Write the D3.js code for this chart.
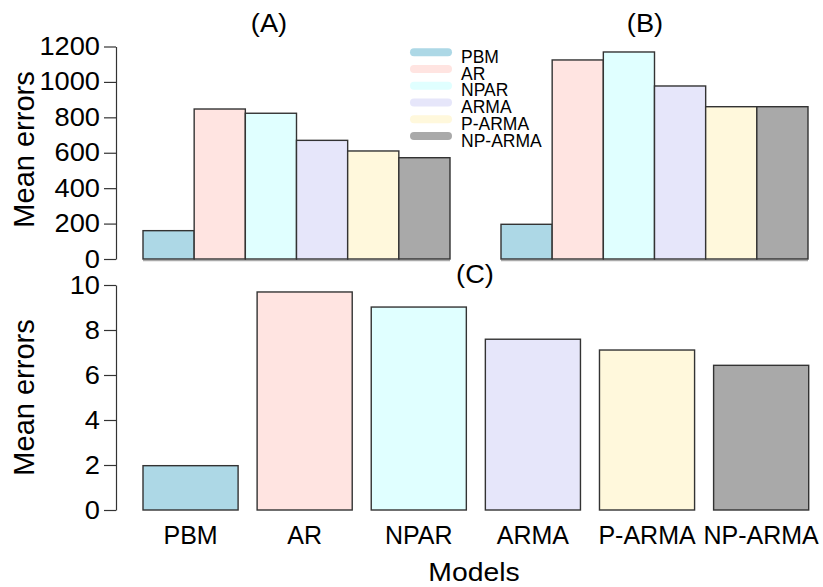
<!DOCTYPE html>
<html>
<head>
<meta charset="utf-8">
<script src="https://cdn.jsdelivr.net/npm/d3@7"></script>
<style>
  body { margin: 0; background: #fff; }
  svg text { font-family: "Liberation Sans", Arial, sans-serif; fill: #000; }
</style>
</head>
<body>
<svg width="823" height="587"></svg>
<script>
// models and fill colours (same order for every panel)
var models = ["PBM", "AR", "NPAR", "ARMA", "P-ARMA", "NP-ARMA"],
    fills = ["#add8e6", "#ffe4e1", "#e0ffff", "#e6e6fa", "#fff8dc", "#a9a9a9"];

// mean errors
var errorsA = [160, 847, 823, 670, 610, 572],
    errorsB = [196, 1124, 1169, 977, 860, 860],
    errorsC = [1.97, 9.69, 9.02, 7.59, 7.11, 6.43];

var ticksTop = [0, 200, 400, 600, 800, 1000, 1200],
    ticksC = [0, 2, 4, 6, 8, 10];

var svg = d3.select("svg"),
    sx = 1.09; // R text is a touch wider than Arial

var yTop = d3.scaleLinear().domain([0, 1200]).range([259, 46.5]);
var yC = d3.scaleLinear().domain([0, 10]).range([510, 285]);

var xA = d3.scaleBand().domain(models).range([143, 450]).padding(0),
    xB = d3.scaleBand().domain(models).range([501, 808]).padding(0),
    xC = d3.scaleBand().domain(models).range([143, 808.7]).paddingInner(1 / 6).paddingOuter(0);

function stretch(sel) {
  sel.each(function() {
    var t = d3.select(this), x = +t.attr("x") || 0;
    t.attr("x", x / sx).attr("transform", "scale(" + sx + ",1)");
  });
}

function bars(x, y, vals) {
  svg.append("g").selectAll("rect")
    .data(vals)
    .enter().append("rect")
      .attr("x", function(d, i) { return x(models[i]); })
      .attr("width", x.bandwidth())
      .attr("y", function(d) { return y(d); })
      .attr("height", function(d) { return y(0) - y(d); })
      .attr("fill", function(d, i) { return fills[i]; })
      .attr("stroke", "#333")
      .attr("stroke-width", 1.4);
}

function yaxis(y, ticks) {
  var g = svg.append("g")
      .attr("transform", "translate(116,0)")
      .call(d3.axisLeft(y).tickValues(ticks).tickFormat(d3.format("d"))
        .tickSize(12).tickSizeOuter(0).tickPadding(4));
  g.selectAll("path, line").attr("stroke", "#333").attr("stroke-width", 1.2);
  g.selectAll("text").attr("font-size", 25).attr("fill", "#000")
    .style("font-family", "'Liberation Sans', Arial, sans-serif")
    .call(stretch);
}

function title(txt, x, y, size) {
  svg.append("text")
    .attr("x", x / sx).attr("y", y)
    .attr("transform", "scale(" + sx + ",1)")
    .attr("text-anchor", "middle")
    .attr("font-size", size)
    .text(txt);
}

// gray baselines under the top panels
[xA, xB].forEach(function(x) {
  svg.append("line")
    .attr("x1", x.range()[0]).attr("x2", x.range()[1])
    .attr("y1", 260.5).attr("y2", 260.5)
    .attr("stroke", "#aaa").attr("stroke-width", 1.5);
});

bars(xA, yTop, errorsA);
bars(xB, yTop, errorsB);
bars(xC, yC, errorsC);

yaxis(yTop, ticksTop);
yaxis(yC, ticksC);

title("(A)", 269, 32, 25);
title("(B)", 645, 32, 25);
title("(C)", 475, 283, 25);

// y axis titles
[149.5, 397.5].forEach(function(cy) {
  svg.append("text")
    .attr("transform", "translate(33.5," + cy + ") rotate(-90)")
    .attr("text-anchor", "middle")
    .attr("font-size", 29)
    .text("Mean errors");
});

// model names under panel C
svg.append("g").selectAll("text")
  .data(models)
  .enter().append("text")
    .attr("x", function(d) { return xC(d) + xC.bandwidth() / 2; })
    .attr("y", 544)
    .attr("text-anchor", "middle")
    .attr("font-size", 25)
    .text(function(d) { return d; });

title("Models", 474, 581, 26);

// legend
var leg = svg.append("g").selectAll("g")
  .data(models)
  .enter().append("g")
    .attr("transform", function(d, i) { return "translate(0," + (52.3 + i * 16.75) + ")"; });

leg.append("line")
  .attr("x1", 414).attr("x2", 448)
  .attr("stroke", function(d, i) { return fills[i]; })
  .attr("stroke-width", 8)
  .attr("stroke-linecap", "round");

leg.append("text")
  .attr("x", 461).attr("y", 10.5)
  .attr("font-size", 17.5)
  .text(function(d) { return d; });
</script>
</body>
</html>
